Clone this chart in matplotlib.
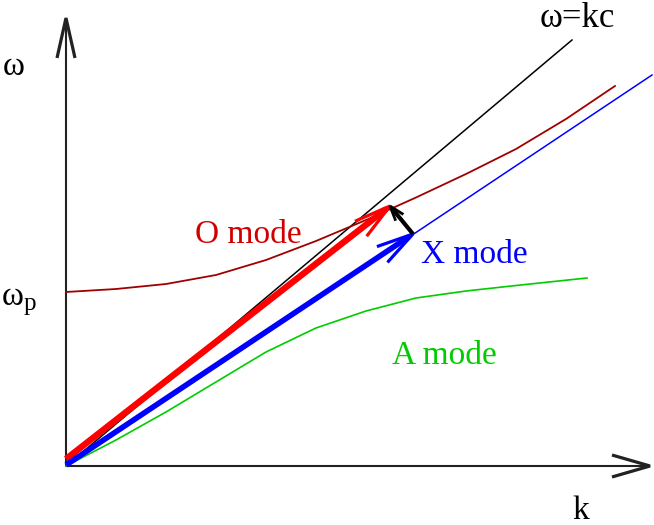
import matplotlib
matplotlib.use('Agg')
import matplotlib.pyplot as plt
import numpy as np

# dispersion sketch, units are arbitrary (k to the right, omega up)

# light line omega = kc
LIGHT_K = [0, 506]
LIGHT_W = [0, 426]

# O mode (dark red)
O_K = [0, 50, 100, 150, 200, 250, 300, 350, 400, 450, 500, 549]
O_W = [174, 177, 182, 191, 206, 225, 246, 268.5, 292, 317, 347, 380]

# X mode (blue, straight)
X_K = [0, 586]
X_W = [0, 391]

# A mode (green)
A_K = [0, 50, 100, 150, 200, 250, 300, 350, 400, 450, 521]
A_W = [0, 26, 54, 84, 114, 138, 155, 168, 175, 180.5, 188]

# wave vectors: (tail, tip)
O_VEC = ((0, 7), (324, 260))
X_VEC = ((0, 1), (347, 232))
DIFF_VEC = ((347, 232), (324, 260))

# axes ends
K_AXIS_END = 584
W_AXIS_END = 448

plt.rcParams['font.family'] = ['Liberation Serif', 'DejaVu Serif']

fig = plt.figure(figsize=(6.54, 5.25), dpi=100)
ax = fig.add_axes([0, 0, 1, 1])
ax.set_xlim(-66, 588)
ax.set_ylim(-59, 466)
ax.axis('off')


def arrow(tail, tip, color, lw, head_lw, hl, hw, back=3):
    # shaft + open V head (xfig style), 1 data unit is 1 pixel here
    tail = np.array(tail, float)
    tip = np.array(tip, float)
    d = (tip - tail) / np.hypot(*(tip - tail))
    n = np.array([-d[1], d[0]])
    end = tip - d * back
    ax.plot([tail[0], end[0]], [tail[1], end[1]], color=color, lw=lw,
            solid_capstyle='butt')
    a1 = tip - d * hl + n * hw
    a2 = tip - d * hl - n * hw
    ax.plot([a1[0], tip[0], a2[0]], [a1[1], tip[1], a2[1]], color=color,
            lw=head_lw, solid_joinstyle='miter', solid_capstyle='butt')


# axes
arrow((0, 0), (0, W_AXIS_END), '#222222', 1.5, 2.3, 40, 9, back=2)
arrow((0, 0), (K_AXIS_END, 0), '#222222', 1.5, 2.3, 38, 11, back=2)

# curves
ax.plot(LIGHT_K, LIGHT_W, color='black', lw=1.1)
ax.plot(O_K, O_W, color='#a00000', lw=1.3)
ax.plot(X_K, X_W, color='#0000ff', lw=1.1)
ax.plot(A_K, A_W, color='#00cc00', lw=1.2)

# wave vectors
arrow(O_VEC[0], O_VEC[1], '#ff0000', 4.6, 2.3, 37, 9.5, back=5)
arrow(X_VEC[0], X_VEC[1], '#0000ff', 4.0, 2.3, 37, 9.5, back=5)
arrow(DIFF_VEC[0], DIFF_VEC[1], 'black', 3.0, 2.0, 15, 5, back=3)

# labels
fs = 24
ax.text(129, 223, 'O mode', color='#d00000', fontsize=fs, va='baseline', ha='left')
ax.text(355, 203, 'X mode', color='#0000ff', fontsize=fs, va='baseline', ha='left')
ax.text(326, 102, 'A mode', color='#00cc00', fontsize=fs, va='baseline', ha='left')
ax.text(511, 439, 'ω=kc', color='black', fontsize=25, va='baseline', ha='center')
ax.text(-52, 391, 'ω', color='black', fontsize=fs, va='baseline', ha='center')
ax.text(-53, 161, 'ω', color='black', fontsize=fs, va='baseline', ha='center')
ax.text(-36, 156, 'p', color='black', fontsize=18, va='baseline', ha='center')
ax.text(515, -53, 'k', color='black', fontsize=fs, va='baseline', ha='center')

fig.savefig('out.png', dpi=100)
